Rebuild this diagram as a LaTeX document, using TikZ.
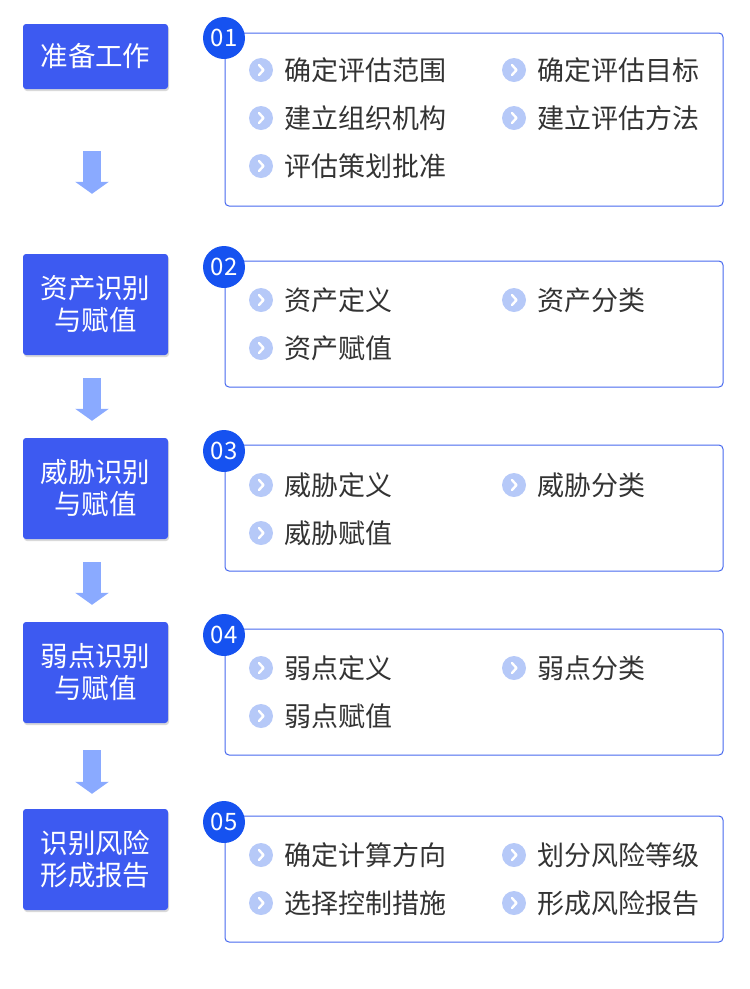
\documentclass[tikz,border=0pt]{standalone}
\usepackage{fontspec}
\setmainfont{Noto Sans CJK SC}
\usepackage{tikz}
\usetikzlibrary{positioning,shadows,arrows.meta}
\definecolor{stageblue}{RGB}{61,90,241}
\definecolor{numblue}{RGB}{22,82,240}
\definecolor{frameblue}{RGB}{70,104,238}
\definecolor{arrowblue}{RGB}{138,170,255}
\definecolor{dotblue}{RGB}{182,201,248}
\definecolor{textgray}{RGB}{51,51,51}
\tikzstyle{stage} = [draw=none,fill=stageblue,rounded corners=3pt,text=white,align=center,
  minimum width=145pt,font=\fontsize{27.5}{32}\selectfont,
  drop shadow={opacity=0.3,shadow xshift=1pt,shadow yshift=-2pt}]
\tikzstyle{panel} = [draw=frameblue,line width=1pt,rounded corners=4pt,minimum width=498pt]
\tikzstyle{num} = [circle,fill=numblue,text=white,minimum size=42pt,inner sep=0pt,
  font=\fontsize{24}{24}\selectfont]
\tikzstyle{bullet} = [circle,fill=dotblue,minimum size=24pt,inner sep=0pt,
  path picture={\draw[white,line width=2.4pt,line cap=round,line join=round]
    ([xshift=-2pt,yshift=5pt]path picture bounding box.center) -- ++(4.5pt,-5pt) -- ++(-4.5pt,-5pt);}]
\tikzstyle{itemtext} = [inner sep=0pt,anchor=west,text=textgray,font=\fontsize{27}{32}\selectfont]
\tikzstyle{arrow} = [arrowblue,line width=18pt,-{Triangle[width=33pt,length=12pt]}]

\begin{document}
\begin{tikzpicture}[x=1pt,y=-1pt]
\useasboundingbox (0,0) rectangle (750,989);

% left column
\node (s1) [stage,minimum height=65pt] at (95.5,56.5) {准备工作};
\node (s2) [stage,minimum height=101pt] at (95.5,304.5) {资产识别\\与赋值};
\node (s3) [stage,minimum height=101pt] at (95.5,488.5) {威胁识别\\与赋值};
\node (s4) [stage,minimum height=101pt] at (95.5,672.5) {弱点识别\\与赋值};
\node (s5) [stage,minimum height=101pt] at (95.5,859.5) {识别风险\\形成报告};
\draw [arrow,shorten <=62pt,shorten >=60pt] ([xshift=-3.5pt]s1.south) -- ([xshift=-3.5pt]s2.north);
\draw [arrow,shorten <=23pt,shorten >=17pt] ([xshift=-3.5pt]s2.south) -- ([xshift=-3.5pt]s3.north);
\draw [arrow,shorten <=23pt,shorten >=17pt] ([xshift=-3.5pt]s3.south) -- ([xshift=-3.5pt]s4.north);
\draw [arrow,shorten <=27pt,shorten >=15pt] ([xshift=-3.5pt]s4.south) -- ([xshift=-3.5pt]s5.north);

% right column
\node (p1) [panel,minimum height=173pt] at (474,119.5) {};
\node (p2) [panel,minimum height=126pt] at (474,324) {};
\node (p3) [panel,minimum height=126pt] at (474,508) {};
\node (p4) [panel,minimum height=126pt] at (474,692) {};
\node (p5) [panel,minimum height=126pt] at (474,879) {};
\node (n1) [num] at (224,38) {01};
\node (n2) [num] at (224,267) {02};
\node (n3) [num] at (224,451) {03};
\node (n4) [num] at (224,635) {04};
\node (n5) [num] at (224,822) {05};

% items
\node (b11) [bullet] at (261,70) {};
\node (t11) [itemtext,right=11pt of b11] {确定评估范围};
\node (b12) [bullet] at (514,70) {};
\node (t12) [itemtext,right=11pt of b12] {确定评估目标};
\node (b13) [bullet] at (261,118) {};
\node (t13) [itemtext,right=11pt of b13] {建立组织机构};
\node (b14) [bullet] at (514,118) {};
\node (t14) [itemtext,right=11pt of b14] {建立评估方法};
\node (b15) [bullet] at (261,166) {};
\node (t15) [itemtext,right=11pt of b15] {评估策划批准};

\node (b21) [bullet] at (261,300) {};
\node (t21) [itemtext,right=11pt of b21] {资产定义};
\node (b22) [bullet] at (514,300) {};
\node (t22) [itemtext,right=11pt of b22] {资产分类};
\node (b23) [bullet] at (261,348) {};
\node (t23) [itemtext,right=11pt of b23] {资产赋值};

\node (b31) [bullet] at (261,485) {};
\node (t31) [itemtext,right=11pt of b31] {威胁定义};
\node (b32) [bullet] at (514,485) {};
\node (t32) [itemtext,right=11pt of b32] {威胁分类};
\node (b33) [bullet] at (261,533) {};
\node (t33) [itemtext,right=11pt of b33] {威胁赋值};

\node (b41) [bullet] at (261,668) {};
\node (t41) [itemtext,right=11pt of b41] {弱点定义};
\node (b42) [bullet] at (514,668) {};
\node (t42) [itemtext,right=11pt of b42] {弱点分类};
\node (b43) [bullet] at (261,716) {};
\node (t43) [itemtext,right=11pt of b43] {弱点赋值};

\node (b51) [bullet] at (261,855) {};
\node (t51) [itemtext,right=11pt of b51] {确定计算方向};
\node (b52) [bullet] at (514,855) {};
\node (t52) [itemtext,right=11pt of b52] {划分风险等级};
\node (b53) [bullet] at (261,903) {};
\node (t53) [itemtext,right=11pt of b53] {选择控制措施};
\node (b54) [bullet] at (514,903) {};
\node (t54) [itemtext,right=11pt of b54] {形成风险报告};

\end{tikzpicture}
\end{document}
